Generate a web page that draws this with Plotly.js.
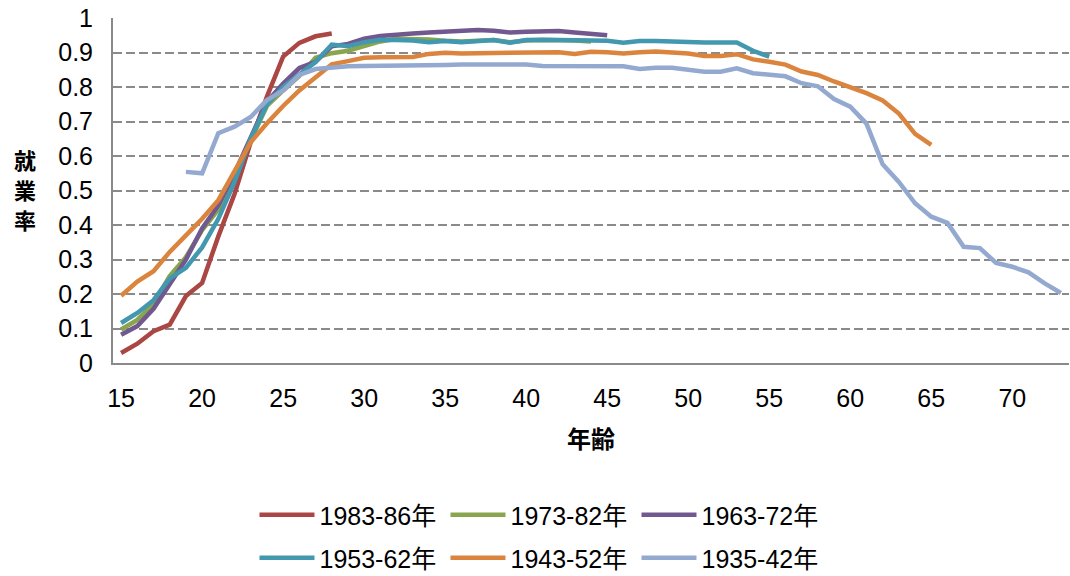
<!DOCTYPE html>
<html>
<head>
<meta charset="utf-8">
<script src="https://cdn.plot.ly/plotly-3.0.1.min.js"></script>
<style>html,body{margin:0;padding:0;background:#fff;}#chart{width:1070px;height:576px;}</style>
</head>
<body>
<div id="chart"></div>
<script>
// Ages (category axis)
const ages = [15,16,17,18,19,20,21,22,23,24,25,26,27,28,29,30,31,32,33,34,35,36,37,38,39,40,
  41,42,43,44,45,46,47,48,49,50,51,52,53,54,55,56,57,58,59,60,61,62,63,64,65,66,67,68,69,70,71,72,73];

const seriesNames = ["1983-86年","1973-82年","1963-72年","1953-62年","1943-52年","1935-42年"];
const seriesStartAge = [15,15,15,15,15,19];

// 1983-86年 : ages 15-28
const s1983 = [0.029,0.056,0.092,0.111,0.194,0.232,0.367,0.49,0.64,0.772,0.888,0.928,0.947,0.955];
// 1973-82年 : ages 15-44
const s1973 = [0.097,0.125,0.172,0.252,0.307,0.385,0.445,0.545,0.65,0.745,0.79,0.832,0.885,0.898,0.905,
  0.92,0.932,0.94,0.94,0.938,0.934,0.932,0.934,0.936,0.93,0.935,0.936,0.936,0.935,0.932];
// 1963-72年 : ages 15-45
const s1963 = [0.082,0.107,0.157,0.228,0.30,0.39,0.457,0.55,0.65,0.757,0.81,0.855,0.873,0.918,0.925,
  0.94,0.948,0.953,0.955,0.958,0.96,0.962,0.965,0.963,0.958,0.96,0.962,0.962,0.958,0.954,0.95];
// 1953-62年 : ages 15-55
const s1953 = [0.116,0.145,0.182,0.245,0.276,0.335,0.418,0.525,0.65,0.75,0.80,0.835,0.872,0.923,0.918,
  0.93,0.937,0.936,0.935,0.93,0.933,0.93,0.933,0.936,0.928,0.936,0.937,0.937,0.936,0.934,0.934,
  0.928,0.933,0.933,0.931,0.93,0.929,0.929,0.929,0.905,0.888];
// 1943-52年 : ages 15-65
const s1943 = [0.195,0.236,0.266,0.322,0.37,0.418,0.472,0.555,0.64,0.695,0.745,0.79,0.83,0.866,0.875,
  0.885,0.886,0.886,0.887,0.896,0.899,0.897,0.898,0.898,0.898,0.899,0.899,0.901,0.896,0.902,0.901,
  0.897,0.901,0.903,0.9,0.897,0.89,0.89,0.895,0.88,0.873,0.865,0.845,0.835,0.816,0.8,0.782,0.761,
  0.723,0.664,0.632];
// 1935-42年 : ages 19-73
const s1935 = [0.554,0.55,0.666,0.685,0.713,0.762,0.79,0.835,0.852,0.857,0.86,0.861,0.861,0.861,0.861,
  0.862,0.864,0.865,0.865,0.865,0.865,0.865,0.861,0.861,0.861,0.861,0.861,0.86,0.852,0.856,0.856,
  0.85,0.844,0.844,0.854,0.84,0.837,0.831,0.811,0.802,0.765,0.743,0.694,0.576,0.525,0.463,0.424,
  0.406,0.337,0.333,0.29,0.279,0.263,0.231,0.203];

const seriesValues = [s1983,s1973,s1963,s1953,s1943,s1935];
const seriesColors = ["#AA4643","#89A54E","#71588F","#4198AF","#DB843D","#93A9CF"];
const seriesLegend = ["legend","legend","legend","legend2","legend2","legend2"];

const yTicks = [0,0.1,0.2,0.3,0.4,0.5,0.6,0.7,0.8,0.9,1];
const yTickText = ["0","0.1","0.2","0.3","0.4","0.5","0.6","0.7","0.8","0.9","1"];
const xTicks = [15,20,25,30,35,40,45,50,55,60,65,70];

// Vertical y-axis title, one character per line
const yTitleChars = ["就","業","率"];

const FONT = 'Liberation Sans, Arial, sans-serif';
const CJK = 'Liberation Sans, Noto Sans CJK JP, sans-serif';
const GRID = '#8a8a8a';

const traces = seriesValues.map((vals, i) => {
  const start = ages.indexOf(seriesStartAge[i]);
  return {
    type: 'scatter', mode: 'lines',
    name: seriesNames[i],
    legend: seriesLegend[i],
    x: ages.slice(start, start + vals.length),
    y: vals,
    line: {color: seriesColors[i], width: 4.5, shape: 'linear'},
    hoverinfo: 'x+y+name'
  };
});

const legendBase = {
  orientation: 'h', x: 0.148, xanchor: 'left', yanchor: 'middle', yref: 'container',
  font: {family: CJK, size: 25, color: '#000'},
  entrywidth: 121, entrywidthmode: 'pixels',
  traceorder: 'normal', itemwidth: 55, bgcolor: 'rgba(0,0,0,0)'
};

const layout = {
  width: 1070, height: 576,
  margin: {l: 113, r: 1, t: 18, b: 213},
  paper_bgcolor: '#ffffff', plot_bgcolor: '#ffffff',
  font: {family: FONT, size: 25, color: '#000'},
  showlegend: true,
  legend: Object.assign({}, legendBase, {y: 1 - 515 / 576}),
  legend2: Object.assign({}, legendBase, {y: 1 - 558 / 576}),
  xaxis: {
    range: [14.5, 73.5], tickmode: 'array', tickvals: xTicks,
    ticks: '', showgrid: false, zeroline: false,
    showline: true, linecolor: GRID, linewidth: 2,
    ticklabelstandoff: 12,
    tickfont: {family: FONT, size: 25},
    title: {text: '<b>年齢</b>', standoff: 20, font: {family: CJK, size: 24}}
  },
  yaxis: {
    range: [0, 1], tickmode: 'array', tickvals: yTicks, ticktext: yTickText,
    ticks: '', showgrid: true, gridcolor: GRID, gridwidth: 2, griddash: '9px,4px',
    zeroline: false, showline: true, linecolor: GRID, linewidth: 2,
    ticklabelstandoff: 13,
    tickfont: {family: FONT, size: 25}
  },
  annotations: yTitleChars.map((ch, k) => ({
    text: '<b>' + ch + '</b>', xref: 'paper', yref: 'paper',
    x: 0, y: 0.583 - k * 0.087, xanchor: 'center', yanchor: 'middle', xshift: -88,
    showarrow: false, font: {family: CJK, size: 22, color: '#000'}
  }))
};

Plotly.newPlot('chart', traces, layout, {displayModeBar: false, staticPlot: true});
</script>
</body>
</html>
